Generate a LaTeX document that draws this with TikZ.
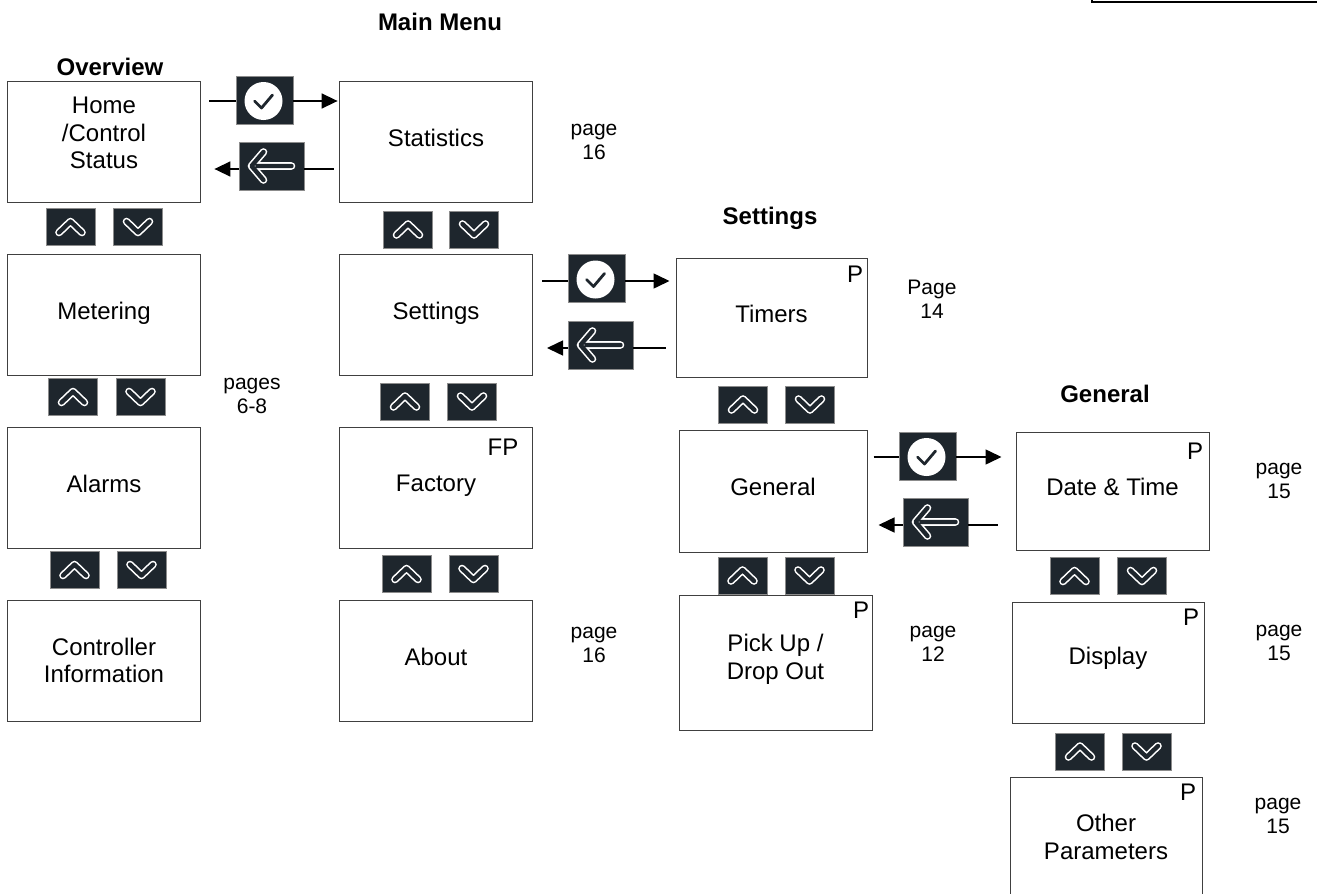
\documentclass[tikz,border=0pt]{standalone}
\usepackage{fontspec}
\setmainfont{Liberation Sans}
\usepackage{xcolor}
\usepackage{tikz}
\usetikzlibrary{arrows.meta}
\definecolor{keydark}{HTML}{1E262D}
\newcommand{\lift}[1]{\rule[-#1]{0pt}{0pt}}

\begin{document}
\begin{tikzpicture}[
  x=0.5pt, y=-0.5pt,
  box/.style={draw=black!75, line width=0.5pt, minimum width=96.5pt,
              minimum height=60.5pt, inner sep=0pt, align=center,
              font=\fontsize{12}{13.75}\selectfont},
  lbl/.style={align=center, inner sep=0pt, font=\fontsize{10.5}{12}\selectfont},
  ttl/.style={inner sep=0pt, font=\fontsize{12}{14}\selectfont\bfseries},
  flag/.style={inner sep=0pt, font=\fontsize{12}{14}\selectfont},
  glyph/.style={draw=keydark, line width=2.2pt, line cap=round, line join=round,
                preaction={draw=white, line width=3.8pt, line cap=round, line join=round}},
  keybox/.style={fill=keydark, draw=black!45, line width=0.3pt, inner sep=0pt,
                 minimum width=24.5pt, minimum height=18.5pt},
  keyup/.style={keybox, path picture={
      \draw[glyph, shift={(path picture bounding box.center)}]
        (-11.5,5.5) -- (0,-5.5) -- (11.5,5.5);}},
  keydown/.style={keybox, path picture={
      \draw[glyph, shift={(path picture bounding box.center)}]
        (-11.5,-5.5) -- (0,5.5) -- (11.5,-5.5);}},
  keyok/.style={keybox, minimum width=28.5pt, minimum height=24pt, path picture={
      \begin{scope}[shift={(path picture bounding box.center)}]
        \fill[white] (-1,1) circle (9.5pt);
        \draw[keydark, line width=1.4pt, line cap=round, line join=round]
          (-10,1) -- (-3,8) -- (8,-5);
      \end{scope}}},
  keyback/.style={keybox, minimum width=32.5pt, minimum height=24pt, path picture={
      \draw[glyph, shift={(path picture bounding box.center)}]
        (-8,-14) -- (-20,0) -- (-8,14) (-14,0) -- (20,0);}},
  wire/.style={line width=0.75pt, black},
  arr/.style={-{Triangle[length=8pt,width=7.5pt]}, line width=0.75pt, black},
]
\clip[use as bounding box] (0,0) rectangle (1317,894);
% Titles
\node[ttl] (tMain)     at (440,22)   {Main Menu};
\node[ttl] (tOverview) at (110,67)   {Overview};
\node[ttl] (tSettings) at (770,218)  {Settings};
\node[ttl] (tGeneral)  at (1105,394) {General};
% Boxes
\node[box] (home)     at (104,141.7)  {Home\\/Control\\Status\lift{8.7pt}};
\node[box] (metering) at (104,314.5)  {Metering\lift{4pt}};
\node[box] (alarms)   at (104,487.5)  {Alarms\lift{4pt}};
\node[box] (ctrlinfo) at (104,660.5)  {Controller\\Information};
\node[box] (stats)    at (436,142)    {Statistics\lift{4pt}};
\node[box] (settings) at (436,314.5)  {Settings\lift{4pt}};
\node[box] (factory)  at (436,487.5)  {Factory\lift{4pt}};
\node[box] (about)    at (436,660.5)  {About\lift{4pt}};
\node[box, minimum width=95.5pt, minimum height=59.5pt]
      (timers)   at (771.5,317.5) {Timers\lift{4pt}};
\node[box, minimum width=94pt, minimum height=61pt]
      (general)  at (773,491)     {General\lift{4pt}};
\node[box, minimum height=67.5pt]
      (pickup)   at (775.5,662.5) {Pick Up /\\Drop Out\lift{5.5pt}};
\node[box, minimum height=59pt]
      (datetime) at (1112.5,491)  {Date \& Time\lift{4pt}};
\node[box, minimum width=96pt]
      (display)  at (1108,662.5)  {Display\lift{7pt}};
\node[box, minimum width=96pt, minimum height=60pt]
      (other)    at (1106,837)    {Other\\Parameters};
\node[draw, line width=1pt, anchor=south west, minimum width=130pt, minimum height=20pt]
      (tab) at (1091,3) {};
% Flags
\node[flag] (fTimers)  at (855,274)  {P};
\node[flag] (fFactory) at (503,447)  {FP};
\node[flag] (fPickup)  at (861,610)  {P};
\node[flag] (fDate)    at (1195,451) {P};
\node[flag] (fDisplay) at (1191,617) {P};
\node[flag] (fOther)   at (1188,792) {P};
% Page labels
\node[lbl] (pStats)   at (594,142)  {page\\16};
\node[lbl] (pMeter)   at (252,396)  {pages\\6-8};
\node[lbl] (pAbout)   at (594,645)  {page\\16};
\node[lbl] (pTimers)  at (932,299)  {Page\\14};
\node[lbl] (pPickup)  at (933,644)  {page\\12};
\node[lbl] (pDate)    at (1279,481) {page\\15};
\node[lbl] (pDisplay) at (1279,643) {page\\15};
\node[lbl] (pOther)   at (1278,816) {page\\15};
% Up and down keys
\node[keyup]   (upA)   at (70.5,227)    {};
\node[keydown] (downA) at (138,227)     {};
\node[keyup]   (upB)   at (73,397)      {};
\node[keydown] (downB) at (140.5,397)   {};
\node[keyup]   (upC)   at (74.5,570)    {};
\node[keydown] (downC) at (141.5,570)   {};
\node[keyup]   (upD)   at (408,229.5)   {};
\node[keydown] (downD) at (474,229.5)   {};
\node[keyup]   (upE)   at (405,401.5)   {};
\node[keydown] (downE) at (472,401.5)   {};
\node[keyup]   (upF)   at (406.5,574)   {};
\node[keydown] (downF) at (473.5,574)   {};
\node[keyup]   (upG)   at (743,404.5)   {};
\node[keydown] (downG) at (810,404.5)   {};
\node[keyup]   (upH)   at (742.5,575.5) {};
\node[keydown] (downH) at (809.5,575.5) {};
\node[keyup]   (upI)   at (1074.5,576)  {};
\node[keydown] (downI) at (1142,576)    {};
\node[keyup]   (upJ)   at (1080,751.5)  {};
\node[keydown] (downJ) at (1146.5,751.5) {};
% Enter and back keys
\node[keyok]   (okA)   at (264.5,100) {};
\node[keyback] (backA) at (271.5,166) {};
\node[keyok]   (okB)   at (596.5,278.5) {};
\node[keyback] (backB) at (600.5,345) {};
\node[keyok]   (okC)   at (927.5,456) {};
\node[keyback] (backC) at (935.5,522) {};
% Rows of the connectors
\coordinate (rowA) at (0,101);
\coordinate (rowB) at (0,169);
\coordinate (rowC) at (0,281);
\coordinate (rowD) at (0,348);
\coordinate (rowE) at (0,457);
\coordinate (rowF) at (0,525);
% Connectors
\draw[wire, shorten <=4.2pt]  (home.east |- rowA)     -- (okA.west |- rowA);
\draw[arr, shorten >=0.7pt]   (okA.east |- rowA)      -- (stats.west |- rowA);
\draw[wire, shorten <=2.7pt]  (stats.west |- rowB)    -- (backA.east |- rowB);
\draw[arr, shorten >=6.7pt]   (backA.west |- rowB)    -- (home.east |- rowB);
\draw[wire, shorten <=4.5pt]  (settings.east |- rowC) -- (okB.west |- rowC);
\draw[arr, shorten >=3pt]     (okB.east |- rowC)      -- (timers.west |- rowC);
\draw[wire, shorten <=5pt]    (timers.west |- rowD)   -- (backB.east |- rowD);
\draw[arr, shorten >=7pt]     (backB.west |- rowD)    -- (settings.east |- rowD);
\draw[wire, shorten <=3pt]    (general.east |- rowE)  -- (okC.west |- rowE);
\draw[arr, shorten >=7pt]     (okC.east |- rowE)      -- (datetime.west |- rowE);
\draw[wire, shorten <=9pt]    (datetime.west |- rowF) -- (backC.east |- rowF);
\draw[arr, shorten >=5.5pt]   (backC.west |- rowF)    -- (general.east |- rowF);
\end{tikzpicture}
\end{document}
